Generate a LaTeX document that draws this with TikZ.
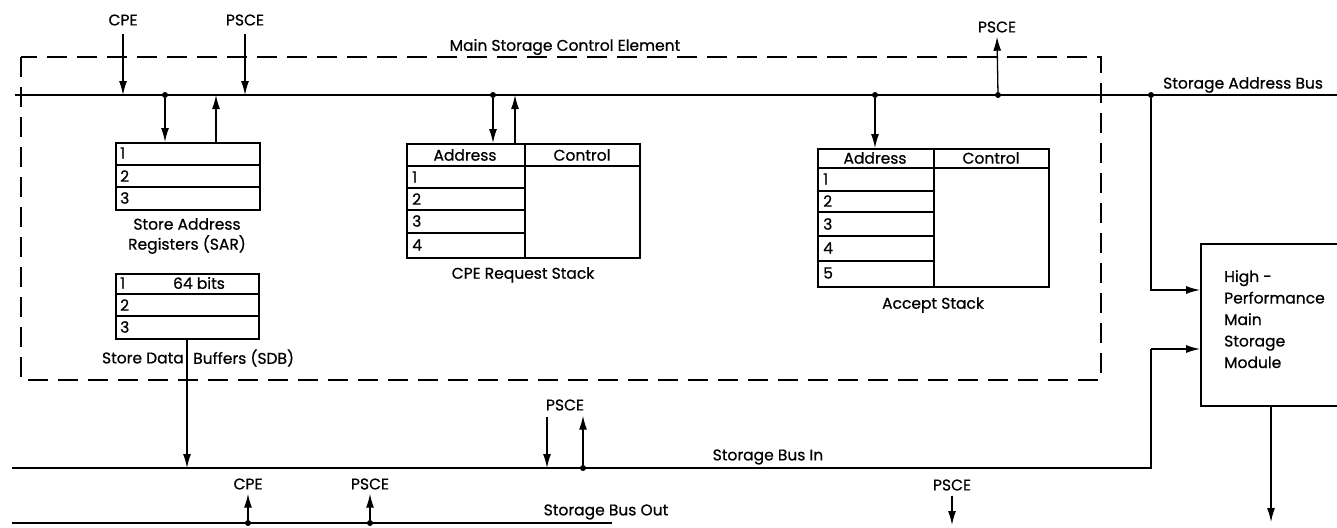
\documentclass[tikz,border=0pt]{standalone}
\usepackage{fontspec}
\setmainfont{Poppins}[FakeBold=0.7]
\usetikzlibrary{arrows.meta}
\begin{document}
\begin{tikzpicture}[x=1pt,y=-1pt,
  font=\fontsize{15.5}{20}\selectfont,
  bus/.style={line width=1.3pt},
  boxn/.style={draw, line width=2pt, rectangle, inner sep=0pt, anchor=north west},
  rowline/.style={line width=1.3pt},
  arr/.style={line width=1.3pt, -{Latex[length=14pt,width=8pt]}},
  lbl/.style={inner sep=0pt},
  num/.style={inner sep=0pt, anchor=west},
  dot/.style={circle, fill, inner sep=0pt, minimum size=6pt},
  dashbox/.style={line width=1.5pt, dash pattern=on 20pt off 10pt},
]
\useasboundingbox (0,0) rectangle (1337,527);
\clip (0,0) rectangle (1337,527);

% Main Storage Control Element (dashed frame)
\draw[dashbox] (21,57) rectangle (1101,380);
\node[lbl] (msce) at (565,47) {Main Storage Control Element};

% Storage Address Bus
\coordinate (sabL) at (15,95);
\coordinate (sabR) at (1337,95);
\draw[bus] (sabL) -- (sabR);
\node[lbl, anchor=south west] (sabT) at (1163,93) {Storage Address Bus};

% CPE / PSCE top inputs
\node[lbl] (cpe1) at (123,20) {CPE};
\coordinate (cpe1b) at (123,95);
\draw[arr] ([yshift=-8pt]cpe1.south) -- (cpe1b);
\node[lbl] (psce1) at (245,20) {PSCE};
\coordinate (psce1b) at (245,95);
\draw[arr] ([yshift=-8pt]psce1.south) -- (psce1b);

% Store Address Registers
\node[boxn, minimum width=144pt, minimum height=67pt] (sar) at (115,142) {};
\draw[rowline] (115,165) -- (259,165);
\draw[rowline] (115,187) -- (259,187);
\node[num] (sar1) at (120,153) {1};
\node[num] (sar2) at (120,176) {2};
\node[num] (sar3) at (120,198) {3};
\node[lbl, align=center] (sarT) at (187,236) {Store Address\\Registers (SAR)};
\node[dot] (d1) at (165,95) {};
\draw[arr] (d1) -- (d1 |- sar.north);
\coordinate (u1) at (216,95);
\draw[arr] (u1 |- sar.north) -- (u1);

% Store Data Buffers
\node[boxn, minimum width=143pt, minimum height=65pt] (sdb) at (115,273) {};
\draw[rowline] (115,294) -- (258,294);
\draw[rowline] (115,316) -- (258,316);
\node[num] (sdb1) at (120,283) {1};
\node[lbl] (sdb64) at (199,283) {64 bits};
\node[num] (sdb2) at (120,305) {2};
\node[num] (sdb3) at (120,327) {3};
\node[lbl, anchor=east] (sdbT1) at (184,358) {Store Data};
\node[lbl, anchor=west] (sdbT2) at (193,358) {Buffers (SDB)};

% CPE Request Stack
\node[boxn, minimum width=233pt, minimum height=114pt] (crs) at (406,143) {};
\draw[rowline] (525,143) -- (525,257);
\draw[rowline] (406,166) -- (639,166);
\draw[rowline] (406,188) -- (525,188);
\draw[rowline] (406,210) -- (525,210);
\draw[rowline] (406,233) -- (525,233);
\node[lbl] (crsA) at (465,155) {Address};
\node[lbl] (crsC) at (582,155) {Control};
\node[num] (crs1) at (412,177) {1};
\node[num] (crs2) at (412,199) {2};
\node[num] (crs3) at (412,221) {3};
\node[num] (crs4) at (412,245) {4};
\node[lbl] (crsT) at (523,275) {CPE Request Stack};
\node[dot] (d2) at (493,95) {};
\draw[arr] (d2) -- (d2 |- crs.north);
\coordinate (u2) at (515,95);
\draw[arr] (u2 |- crs.north) -- (u2);

% Accept Stack
\node[boxn, minimum width=231pt, minimum height=138pt] (acc) at (817,148) {};
\draw[rowline] (934,148) -- (934,286);
\draw[rowline] (817,168) -- (1048,168);
\draw[rowline] (817,191) -- (934,191);
\draw[rowline] (817,212) -- (934,212);
\draw[rowline] (817,236) -- (934,236);
\draw[rowline] (817,261) -- (934,261);
\node[lbl] (accA) at (875,158) {Address};
\node[lbl] (accC) at (991,158) {Control};
\node[num] (acc1) at (823,179) {1};
\node[num] (acc2) at (823,201) {2};
\node[num] (acc3) at (823,224) {3};
\node[num] (acc4) at (823,248) {4};
\node[num] (acc5) at (823,273) {5};
\node[lbl] (accT) at (933,305) {Accept Stack};
\node[dot] (d3) at (875,95) {};
\draw[arr] (d3) -- (d3 |- acc.north);
\node[dot] (d4) at (998,95) {};
\node[lbl] (psce2) at (997,27) {PSCE};
\draw[arr] (d4) -- ([yshift=-4pt]psce2.south);

% High-Performance Main Storage Module
\node[boxn, minimum width=150pt, minimum height=162pt] (hpm) at (1200,243) {};
\node[lbl, anchor=north west, align=left, font=\fontsize{15.5}{21.5}\selectfont] (hpmT) at (1224,270) {High -\\Performance\\Main\\Storage\\Module};
\node[dot] (d5) at (1151,95) {};
\coordinate (k1) at (1151,290);
\draw[arr] (d5) -- (k1) -- (k1 -| hpm.west);
\coordinate (hpmOut) at (1271,522);
\draw[arr] (hpm.south -| hpmOut) -- (hpmOut);

% Storage Bus In
\coordinate (sbiL) at (12,468);
\coordinate (sbiR) at (1151,468);
\coordinate (k2) at (1151,349);
\draw[bus] (sbiL) -- (sbiR) -- (k2);
\draw[arr] (k2) -- (k2 -| hpm.west);
\node[lbl] (sbiT) at (768,457) {Storage Bus In};
\coordinate (sdbIn) at (187,468);
\draw[arr] (sdb.south -| sdbIn) -- (sdbIn);
\node[lbl] (psce3) at (565,405) {PSCE};
\coordinate (p3a) at (547,468);
\draw[arr] ([yshift=-6pt]psce3.south -| p3a) -- (p3a);
\node[dot] (d6) at (583,468) {};
\draw[arr] (d6) -- ([yshift=-5pt]psce3.south -| d6);

% Storage Bus Out
\coordinate (sboL) at (12,523);
\coordinate (sboR) at (612,523);
\draw[bus] (sboL) -- (sboR);
\node[lbl] (sboT) at (606,512) {Storage Bus Out};
\node[lbl] (cpe2) at (248,484) {CPE};
\node[dot] (d7) at (248,523) {};
\draw[arr] (d7) -- ([yshift=-4pt]cpe2.south);
\node[lbl] (psce4) at (370,484) {PSCE};
\node[dot] (d8) at (370,523) {};
\draw[arr] (d8) -- ([yshift=-4pt]psce4.south);
\node[lbl] (psce5) at (952,485) {PSCE};
\coordinate (p5) at (952,525);
\draw[arr] ([yshift=-5pt]psce5.south) -- (p5);
\end{tikzpicture}
\end{document}
